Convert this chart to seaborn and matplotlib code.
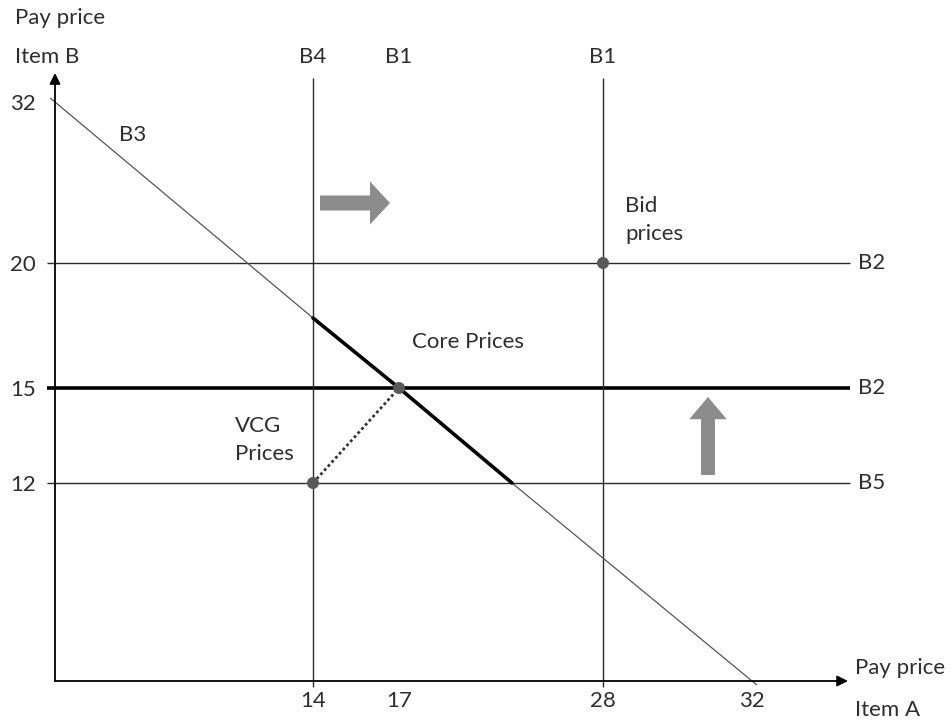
import numpy as np
import matplotlib.pyplot as plt
import seaborn as sns
from matplotlib.patches import FancyArrowPatch, ArrowStyle

# --- values ---
x_ticks = [14, 17, 28, 32]
y_ticks = [12, 15, 20, 32]

vline_x = [14, 28]                 # B4, B1
hline_y = [20, 15, 12]             # B2, B2, B5
hline_w = [1.0, 2.6, 1.0]

top_labels = ["B4", "B1", "B1"]
top_label_x = [14, 17, 28]
right_labels = ["B2", "B2", "B5"]
right_label_y = [20, 15, 12]

b3_x = [0, 14, 17, 20, 32]         # B3: package bid of 32
b3_y = [32, 18, 15, 12, 0]
core_x = [14, 17, 20]              # core segment
core_y = [18, 15, 12]
vcg_path_x = [14, 17]
vcg_path_y = [12, 15]
pt_x = [28, 17, 14]                # bid, core, VCG prices
pt_y = [20, 15, 12]

# the original is a schematic: axes are not linear, so warp them piecewise
X_DATA = [0, 14, 17, 18, 20, 28, 32, 36]
X_PIX = [0, 258, 344, 380, 457, 548, 697, 793]
Y_DATA = [0, 12, 15, 18, 20, 32, 35]
Y_PIX = [0, 198, 293, 363, 418, 579, 608]


def warp(src, dst):
    src = np.asarray(src, float)
    dst = np.asarray(dst, float)
    lo = (dst[1] - dst[0]) / (src[1] - src[0])
    hi = (dst[-1] - dst[-2]) / (src[-1] - src[-2])

    def f(v):
        v = np.asarray(v, float)
        out = np.interp(v, src, dst)
        out = np.where(v < src[0], dst[0] + (v - src[0]) * lo, out)
        out = np.where(v > src[-1], dst[-1] + (v - src[-1]) * hi, out)
        return out
    return f


fx, ix = warp(X_DATA, X_PIX), warp(X_PIX, X_DATA)
fy, iy = warp(Y_DATA, Y_PIX), warp(Y_PIX, Y_DATA)


def stretch(xs, ys, by):
    # lengthen a polyline at both ends by `by` pixels
    px, py = fx(xs).astype(float), fy(ys).astype(float)
    for a, b in ((0, 1), (-1, -2)):
        d = np.array([px[a] - px[b], py[a] - py[b]])
        d = d / np.hypot(*d)
        px[a] += d[0] * by
        py[a] += d[1] * by
    return ix(px), iy(py)


sns.set_theme(style="white")
plt.rcParams["font.family"] = ["Lato", "DejaVu Sans"]
TXT = "#2e2e2e"
LINE = "#2b2b2b"
FS = 16

W, H = 952, 724
AX_L, AX_B = 55, 681
fig = plt.figure(figsize=(W / 100, H / 100), dpi=100)
ax = fig.add_axes([AX_L / W, (H - AX_B) / H, 793 / W, 608 / H])
ax.set_xscale("function", functions=(fx, ix))
ax.set_yscale("function", functions=(fy, iy))
ax.set_xlim(0, 36)
ax.set_ylim(0, 35)
sns.despine(ax=ax, left=True, bottom=True)
ax.patch.set_alpha(0)


def at(px, py):
    return float(ix(px - AX_L)), float(iy(AX_B - py))


# axes with arrow heads
arr = dict(arrowstyle="-|>", color="black", lw=1.3, mutation_scale=16, shrinkA=0, shrinkB=0)
ax.annotate("", xy=(36, 0), xytext=(0, 0), arrowprops=arr, annotation_clip=False)
ax.annotate("", xy=(0, 35), xytext=(0, 0), arrowprops=arr, annotation_clip=False)

# bidder lines
for y, w in zip(hline_y, hline_w):
    ax.hlines(y, float(ix(-8)), float(ix(795)), colors="black" if w > 2 else LINE,
              lw=w, clip_on=False, zorder=2)
ax.vlines(vline_x, float(iy(-6)), float(iy(603)), colors=LINE, lw=1.0, clip_on=False, zorder=2)

bx, by = stretch(b3_x, b3_y, 6)
sns.lineplot(x=bx, y=by, ax=ax, color="#555555", lw=0.9, sort=False, estimator=None,
             clip_on=False, zorder=2)
sns.lineplot(x=core_x, y=core_y, ax=ax, color="black", lw=2.6, sort=False, estimator=None, zorder=3)
ax.plot(vcg_path_x, vcg_path_y, ls=(0, (1, 1)), lw=2, color="#333333", zorder=3)
sns.scatterplot(x=pt_x, y=pt_y, ax=ax, s=75, color="#595959", edgecolor="none", zorder=5)

# movement arrows
ax.add_patch(FancyArrowPatch(at(320, 203), at(390, 203),
                             arrowstyle=ArrowStyle.Simple(head_length=14.4, head_width=31, tail_width=10.8),
                             mutation_scale=1, color="#8c8c8c", shrinkA=0, shrinkB=0, lw=0))
ax.add_patch(FancyArrowPatch(at(708, 475), at(708, 397),
                             arrowstyle=ArrowStyle.Simple(head_length=16, head_width=27, tail_width=10),
                             mutation_scale=1, color="#8c8c8c", shrinkA=0, shrinkB=0, lw=0))

# ticks
ax.set_xticks(x_ticks)
ax.set_xticklabels([str(v) for v in x_ticks])
ax.set_yticks(y_ticks)
ax.set_yticklabels([str(v) for v in y_ticks])
ax.tick_params(axis="x", length=0, pad=7, labelsize=FS, labelcolor=TXT)
ax.tick_params(axis="y", length=0, pad=14, labelsize=FS, labelcolor=TXT)
ax.grid(False)

# labels
for x, lab in zip(top_label_x, top_labels):
    ax.text(x, float(iy(624)), lab, ha="center", va="center", fontsize=FS, color=TXT)
for y, lab in zip(right_label_y, right_labels):
    ax.text(float(ix(803)), y, lab, ha="left", va="center", fontsize=FS, color=TXT)

ax.text(*at(133, 135), "B3", ha="center", va="center", fontsize=FS, color=TXT)
ax.text(*at(625, 220), "Bid\nprices", ha="left", va="center", fontsize=FS, color=TXT, linespacing=1.5)
ax.text(*at(412, 342), "Core Prices", ha="left", va="center", fontsize=FS, color=TXT)
ax.text(*at(235, 440), "VCG\nPrices", ha="left", va="center", fontsize=FS, color=TXT, linespacing=1.5)

fig.text(15 / W, 1 - 18 / H, "Pay price", ha="left", va="center", fontsize=FS, color=TXT)
fig.text(15 / W, 1 - 57 / H, "Item B", ha="left", va="center", fontsize=FS, color=TXT)
fig.text(855 / W, 1 - 668 / H, "Pay price", ha="left", va="center", fontsize=FS, color=TXT)
fig.text(855 / W, 1 - 710 / H, "Item A", ha="left", va="center", fontsize=FS, color=TXT)

fig.savefig("out.png", dpi=100)
